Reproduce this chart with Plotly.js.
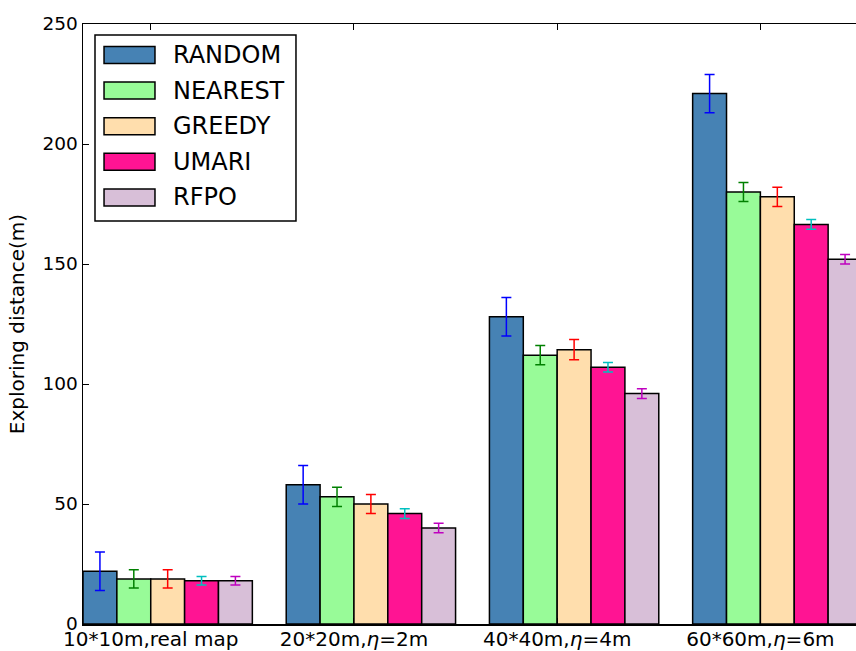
<!DOCTYPE html>
<html>
<head>
<meta charset="utf-8">
<script src="https://cdn.plot.ly/plotly-3.0.1.min.js"></script>
<style>
html, body { margin:0; padding:0; overflow:hidden; background:#fff; }
#chart { width:880px; height:651px; }
</style>
</head>
<body>
<div id="chart"></div>
<script>
// ---- data ----
const categories = ["10*10m,real map", "20*20m,<i>η</i>=2m", "40*40m,<i>η</i>=4m", "60*60m,<i>η</i>=6m"];
const seriesNames = ["RANDOM", "NEAREST", "GREEDY", "UMARI", "RFPO"];
const RANDOM  = [22, 58, 128, 221];
const NEAREST = [18.8, 53, 112, 180];
const GREEDY  = [18.8, 50, 114.3, 178];
const UMARI   = [18, 46, 107, 166.5];
const RFPO    = [18, 40, 96, 152];
const RANDOM_err  = [8, 8, 8, 8];
const NEAREST_err = [3.8, 4, 4, 4];
const GREEDY_err  = [3.8, 4, 4.2, 4];
const UMARI_err   = [1.8, 2, 2, 2];
const RFPO_err    = [1.8, 2, 2, 2];
const yTicks = [0, 50, 100, 150, 200, 250];

// ---- styles ----
const values = [RANDOM, NEAREST, GREEDY, UMARI, RFPO];
const errs = [RANDOM_err, NEAREST_err, GREEDY_err, UMARI_err, RFPO_err];
const fillColors = ["#4682b4", "#98fb98", "#ffdead", "#ff1493", "#d8bfd8"];
const errColors = ["#0000ff", "#008000", "#ff0000", "#00bfbf", "#bf00bf"];
const w = 1/6;
const FONT = "DejaVu Sans, sans-serif";

const traces = values.map((v, k) => ({
  type: "bar",
  name: seriesNames[k],
  x: v.map((_, i) => i + (k + 0.5) * w),
  y: v,
  width: v.map(() => w),
  marker: { color: fillColors[k], line: { color: "#000", width: 1.5 } },
  error_y: { type: "data", array: errs[k], visible: true, color: errColors[k], thickness: 1.5, width: 5 },
  showlegend: false
}));

// custom legend (matplotlib style) built from the names and colours
const shapes = [];
const annotations = [];
const lx0 = 0.0154, lx1 = 0.2734, ly1 = 0.9817, ly0 = 0.6717;
shapes.push({ type: "rect", xref: "paper", yref: "paper", x0: lx0, x1: lx1, y0: ly0, y1: ly1,
  line: { color: "#000", width: 1.5 }, fillcolor: "#fff", layer: "above" });
seriesNames.forEach((n, k) => {
  const cy = 0.9483 - k * (35.6 / 600);
  const hh = 8.5 / 600;
  shapes.push({ type: "rect", xref: "paper", yref: "paper", x0: 0.0270, x1: 0.0924, y0: cy - hh, y1: cy + hh,
    line: { color: "#000", width: 1.5 }, fillcolor: fillColors[k], layer: "above" });
  annotations.push({ xref: "paper", yref: "paper", x: 0.1135, y: cy, xanchor: "left", yanchor: "middle",
    text: n, showarrow: false, font: { family: FONT, size: 24, color: "#000" } });
});

const layout = {
  width: 880, height: 651,
  margin: { l: 83, r: 18, t: 24, b: 27 },
  paper_bgcolor: "#fff", plot_bgcolor: "#fff",
  barmode: "overlay",
  showlegend: false,
  font: { family: FONT, color: "#000" },
  xaxis: {
    range: [0, 3 + 5 * w],
    tickvals: categories.map((_, i) => i + 2 * w),
    ticktext: categories,
    ticks: "inside", ticklen: 6, tickcolor: "#000", tickwidth: 1,
    ticklabelstandoff: -4,
    showline: true, linecolor: "#000", linewidth: 1.5, mirror: "allticks",
    showgrid: false, zeroline: false,
    tickfont: { family: FONT, size: 20, color: "#000" }
  },
  yaxis: {
    range: [0, 250],
    tickvals: yTicks,
    ticks: "inside", ticklen: 6, tickcolor: "#000", tickwidth: 1,
    showline: true, linecolor: "#000", linewidth: 1.5, mirror: "allticks",
    showgrid: false, zeroline: false,
    tickfont: { family: FONT, size: 18.5, color: "#000" },
    title: { text: "Exploring distance(m)", font: { family: FONT, size: 20, color: "#000" }, standoff: 12 }
  },
  shapes: shapes,
  annotations: annotations
};

Plotly.newPlot("chart", traces, layout, { displayModeBar: false, staticPlot: true });
</script>
</body>
</html>
